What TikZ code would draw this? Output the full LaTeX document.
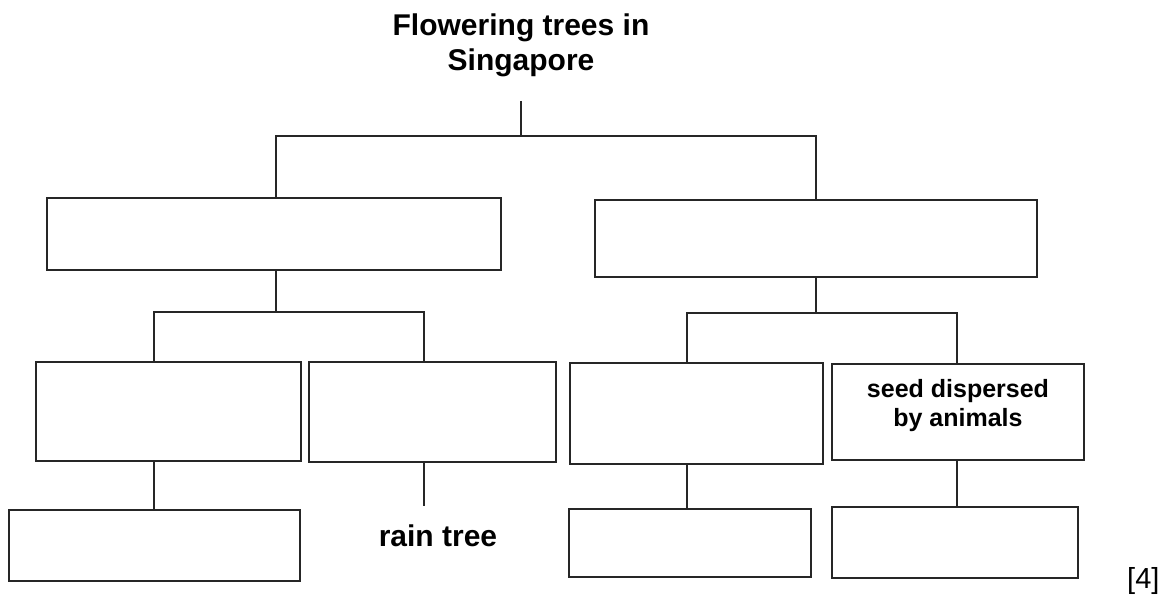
\documentclass[tikz,border=0pt]{standalone}
\usepackage{fontspec}
\setmainfont{Liberation Sans}
\begin{document}
\begin{tikzpicture}[x=1pt,y=-1pt,
  box/.style={draw=black!85, line width=2pt, rectangle, inner sep=0pt},
  link/.style={draw=black!85, line width=2pt},
  bigtxt/.style={font=\fontsize{30}{35}\selectfont\bfseries, inner sep=0pt, align=center},
  smalltxt/.style={font=\fontsize{25}{29}\selectfont\bfseries, inner sep=0pt, align=center}]
\useasboundingbox (0,0) rectangle (1173,597);
% title
\node[bigtxt, anchor=north] (title) at (521,13.5) {Flowering trees in\\Singapore};
% boxes
\node[box, minimum width=454.3pt, minimum height=72pt] (A) at (273.9,234) {};
\node[box, minimum width=441.5pt, minimum height=77pt] (B) at (815.8,238.5) {};
\node[box, minimum width=265.6pt, minimum height=99pt] (C) at (168.4,411.8) {};
\node[box, minimum width=247.2pt, minimum height=100pt] (D) at (432.1,412) {};
\node[box, minimum width=291.2pt, minimum height=71pt] (E) at (154.8,545.5) {};
\node[box, minimum width=252.9pt, minimum height=101pt] (F) at (696.3,413.2) {};
\node[box, minimum width=252.5pt, minimum height=96.6pt] (G) at (958,412) {};
\node[box, minimum width=241.6pt, minimum height=68pt] (H) at (690.2,543) {};
\node[box, minimum width=246.7pt, minimum height=70.7pt] (I) at (955,542.4) {};
% texts
\node[smalltxt] (Gt) at (958,406) {seed dispersed\\by animals};
\node[bigtxt, anchor=base] (rain) at (438,546) {rain tree};
\node[font=\fontsize{29}{33}\selectfont, inner sep=0pt, anchor=base west] (mark) at (1127,588) {[4]};
% junctions
\coordinate (j0) at (521,136);
\coordinate (jA) at (275.5,136);
\coordinate (jB) at (815.5,136);
\coordinate (jA2) at (275.5,312);
\coordinate (jC) at (154.4,312);
\coordinate (jD) at (423.7,312);
\coordinate (rt) at (423.7,506);
\coordinate (jB2) at (816,312.7);
\coordinate (jF) at (687,312.7);
\coordinate (jG) at (957.3,312.7);
% connectors
\draw[link] ([yshift=-24pt]title.south) -- (j0);
\draw[link] (jA |- A.north) -- (jA) -- (jB) -- (jB |- B.north);
\draw[link] (jA2 |- A.south) -- (jA2);
\draw[link] (jC |- C.north) -- (jC) -- (jD) -- (jD |- D.north);
\draw[link] (jC |- C.south) -- (jC |- E.north);
\draw[link] (jD |- D.south) -- (rt);
\draw[link] (jB2 |- B.south) -- (jB2);
\draw[link] (jF |- F.north) -- (jF) -- (jG) -- (jG |- G.north);
\draw[link] (jF |- F.south) -- (jF |- H.north);
\draw[link] (jG |- G.south) -- (jG |- I.north);
\end{tikzpicture}
\end{document}
